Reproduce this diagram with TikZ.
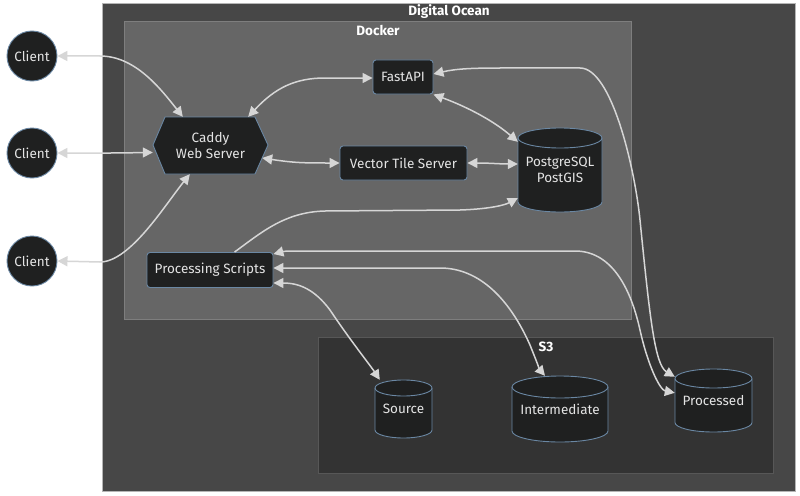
\documentclass[tikz,border=0pt]{standalone}
\usepackage{fontspec}
\setmainfont{Fira Sans}
\usetikzlibrary{arrows.meta}
\definecolor{dobg}{HTML}{474747}
\definecolor{doborder}{HTML}{B5B5B5}
\definecolor{dockbg}{HTML}{666666}
\definecolor{dockborder}{HTML}{7E7E7E}
\definecolor{sbg}{HTML}{333333}
\definecolor{sborder}{HTML}{575757}
\definecolor{nodebg}{HTML}{1F2020}
\definecolor{nodeborder}{HTML}{6A87A3}
\definecolor{nodetext}{HTML}{E4E4E4}
\definecolor{linec}{HTML}{D6D6D6}
\newcommand\mycyl[5]{%
  \path[cylbody] ({#1-#3},{#2-#4+#5}) -- ({#1-#3},{#2+#4-#5})
    arc[start angle=180,end angle=360,x radius=#3pt,y radius=#5pt]
    -- ({#1+#3},{#2-#4+#5})
    arc[start angle=0,end angle=180,x radius=#3pt,y radius=#5pt] -- cycle;
  \draw[cylline] ({#1-#3},{#2-#4+#5})
    arc[start angle=180,end angle=360,x radius=#3pt,y radius=#5pt];}
\begin{document}
\begin{tikzpicture}[x=1pt,y=-1pt,
  cylbody/.style={fill=nodebg,draw=nodeborder,line width=0.9pt},
  cylline/.style={draw=nodeborder,line width=0.9pt},
  lbl/.style={text=nodetext,font=\fontsize{13.5}{16.5}\selectfont,align=center,inner sep=0pt},
  boxnode/.style={lbl,draw=nodeborder,fill=nodebg,line width=0.9pt,rounded corners=3pt},
  client/.style={lbl,circle,draw=nodeborder,fill=nodebg,line width=0.9pt,minimum size=50pt},
  shapeholder/.style={lbl,rectangle},
  title/.style={text=white,font=\fontsize{13.5}{16}\selectfont\bfseries,inner sep=0pt},
  conn/.style={draw=linec,line width=1.5pt,{Triangle[length=10pt,width=10pt]}-{Triangle[length=10pt,width=10pt]}},
  conn1/.style={draw=linec,line width=1.5pt,-{Triangle[length=10pt,width=10pt]}}]
\useasboundingbox (0,0) rectangle (800,495);
\fill[white] (0,0) rectangle (800,495);
% containers
\draw[fill=dobg,draw=doborder,line width=0.8pt] (102,3) rectangle (795,491);
\draw[fill=dockbg,draw=dockborder,line width=0.8pt] (124,21) rectangle (631,319);
\draw[fill=sbg,draw=sborder,line width=0.8pt] (318,337) rectangle (773,473);
\node[title] (tdo) at (449,12) {Digital Ocean};
\node[title] (tdock) at (378,30) {Docker};
\node[title] (ts3) at (546,347) {S3};
% clients
\node[client] (c1) at (32,56) {Client};
\node[client] (c2) at (32,153) {Client};
\node[client] (c3) at (32,261) {Client};
% caddy hexagon
\path[cylbody] (153,145) -- (165,117) -- (255,117) -- (268,145) -- (255,174) -- (165,174) -- cycle;
\node[shapeholder,minimum width=115pt,minimum height=57pt] (caddy) at (210.5,145.5) {Caddy\\Web Server};
% boxes
\node[boxnode,minimum width=60pt,minimum height=34pt] (fa) at (403,77) {FastAPI};
\node[boxnode,minimum width=127pt,minimum height=34pt] (vts) at (403.5,163) {Vector Tile Server};
\node[boxnode,minimum width=126pt,minimum height=35pt] (ps) at (210,270) {Processing Scripts};
% cylinders
\mycyl{560}{170}{42}{42}{10}
\node[shapeholder,minimum width=84pt,minimum height=84pt] (pg) at (560,170) {PostgreSQL\\PostGIS};
\mycyl{403.5}{409}{28.5}{29}{8}
\node[shapeholder,minimum width=57pt,minimum height=58pt] (src) at (403.5,409) {Source};
\mycyl{560}{409}{48}{33}{11}
\node[shapeholder,minimum width=96pt,minimum height=66pt] (inter) at (560,409) {Intermediate};
\mycyl{713.5}{400.5}{38.5}{31.5}{9.5}
\node[shapeholder,minimum width=77pt,minimum height=63pt] (pr) at (713.5,400.5) {Processed};
% connectors
\draw[conn] (c1.east) -- (100,56) .. controls (135,56) and (160,88) .. ([xshift=30pt]caddy.north west);
\draw[conn] (c2.east) -- (110,153) .. controls (130,153) and (140,152.5) .. ([yshift=-7pt]caddy.west);
\draw[conn] (c3.east) -- (100,262) .. controls (130,262) and (165,205) .. ([xshift=37pt]caddy.south west);
\draw[conn] ([xshift=-20pt]caddy.north east) .. controls (275,88) and (295,78) .. (325,78) -- ([yshift=-1pt]fa.west);
\draw[conn] ([xshift=-6pt,yshift=-12.5pt]caddy.east) .. controls (295,163) and (305,163) .. (vts.west);
\draw[conn] (fa.south east) .. controls (470,108) and (495,122) .. ([yshift=-14pt]pg.north west);
\draw[conn] (vts.east) .. controls (490,163) and (500,164) .. ([yshift=6pt]pg.west);
\draw[conn1] ([xshift=88pt]ps.north west) .. controls (262,232) and (285,212) .. (325,211) -- (460,210) .. controls (490,209) and (505,205) .. ([yshift=-28pt]pg.west);
\draw[conn] ([yshift=3pt]fa.east) .. controls (455,69) and (470,68) .. (500,68) -- (580,68) .. controls (612,68) and (635,170) .. (640,220) .. controls (650,320) and (655,365) .. ([yshift=-8pt]pr.north west);
\draw[conn] ([yshift=-2pt]ps.north east) .. controls (285,251) .. (300,251) -- (575,251) .. controls (610,251) and (630,285) .. (640,330) .. controls (648,366) and (660,390) .. ([yshift=-24pt]pr.north west);
\draw[conn] ([yshift=2pt]ps.east) -- (440,268) .. controls (480,268) and (510,300) .. (530,345) .. controls (536,360) and (540,370) .. ([xshift=-15pt]inter.north);
\draw[conn] ([yshift=-13pt]ps.east) .. controls (300,283) and (315,290) .. (330,310) .. controls (350,340) and (370,365) .. ([xshift=5pt]src.north west);
\end{tikzpicture}
\end{document}
